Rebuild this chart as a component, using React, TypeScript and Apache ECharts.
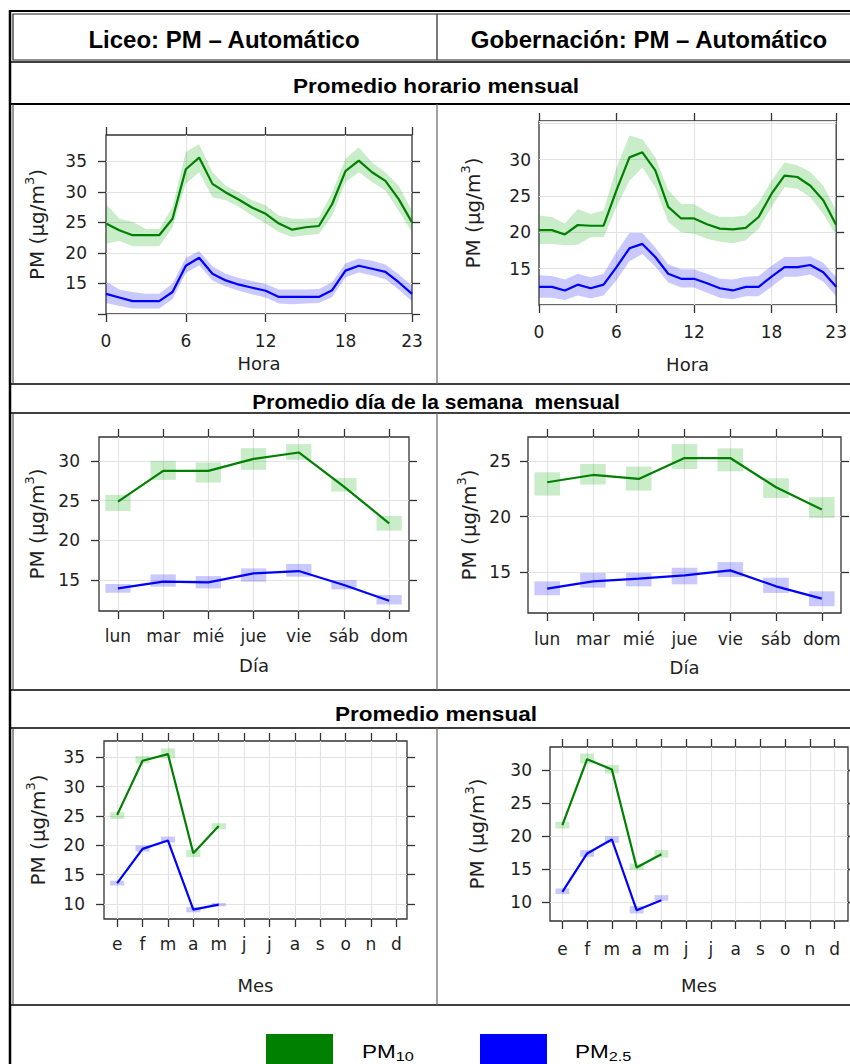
import React, { useEffect, useRef } from "react";
import * as echarts from "echarts";

// ---------- categories / tick labels ----------
const HOURS = ["0","1","2","3","4","5","6","7","8","9","10","11","12","13","14","15","16","17","18","19","20","21","22","23"];
const HOUR_LABEL_IDX = [0, 6, 12, 18, 23];
const HOUR_GRID_IDX = [6, 12, 18];
const DAYS = ["lun", "mar", "mié", "jue", "vie", "sáb", "dom"];
const MONTHS = ["e", "f", "m", "a", "m", "j", "j", "a", "s", "o", "n", "d"];

const Y_TICKS_1 = [10, 15, 20, 25, 30, 35];
const Y_LABELS_1 = [15, 20, 25, 30, 35];
const Y_TICKS_2 = [15, 20, 25, 30];
const Y_LABELS_2 = [15, 20, 25, 30];
const Y_TICKS_3 = [15, 20, 25, 30];
const Y_LABELS_3 = [15, 20, 25, 30];
const Y_TICKS_4 = [15, 20, 25];
const Y_LABELS_4 = [15, 20, 25];
const Y_TICKS_5 = [10, 15, 20, 25, 30, 35];
const Y_LABELS_5 = [10, 15, 20, 25, 30, 35];
const Y_TICKS_6 = [10, 15, 20, 25, 30];
const Y_LABELS_6 = [10, 15, 20, 25, 30];

// ---------- Liceo: hourly ----------
const liceoHourPM10 = [24.8, 23.7, 22.9, 22.9, 22.9, 25.6, 33.7, 35.6, 31.3, 29.9, 28.7, 27.4, 26.4, 24.8, 23.8, 24.2, 24.4, 28.0, 33.4, 35.1, 33.2, 31.8, 28.8, 25.0];
const liceoHourPM10Hi = [28.0, 25.6, 25.1, 23.9, 23.9, 27.5, 36.5, 37.8, 33.2, 31.0, 29.9, 28.6, 27.8, 26.1, 25.6, 25.6, 25.8, 29.9, 35.4, 37.3, 34.8, 33.2, 31.0, 26.9];
const liceoHourPM10Lo = [21.5, 22.0, 21.1, 21.1, 21.1, 24.2, 31.3, 33.2, 29.1, 28.6, 27.5, 26.1, 24.8, 23.4, 22.6, 22.9, 23.1, 26.1, 31.6, 33.2, 31.6, 30.2, 26.9, 23.4];
const liceoHourPM25 = [13.3, 12.7, 12.1, 12.1, 12.1, 13.6, 17.9, 19.2, 16.6, 15.5, 14.8, 14.3, 13.8, 12.8, 12.8, 12.8, 12.8, 13.9, 17.1, 17.9, 17.4, 16.9, 15.2, 13.3];
const liceoHourPM25Hi = [15.3, 14.0, 13.6, 13.3, 13.3, 15.0, 19.2, 20.3, 17.8, 16.6, 15.9, 15.4, 14.9, 14.0, 14.0, 14.0, 14.1, 15.2, 18.3, 19.1, 18.7, 18.1, 16.5, 14.6];
const liceoHourPM25Lo = [11.8, 11.3, 10.9, 10.9, 10.9, 12.4, 16.7, 18.0, 15.5, 14.5, 13.8, 13.2, 12.7, 11.7, 11.6, 11.7, 11.8, 12.8, 16.0, 16.8, 16.3, 15.7, 14.0, 12.1];

// ---------- Gobernación: hourly ----------
const gobHourPM10 = [20.3, 20.3, 19.7, 21.0, 20.9, 20.9, 25.8, 30.3, 31.0, 28.5, 23.5, 21.9, 21.9, 21.1, 20.5, 20.4, 20.6, 22.1, 25.3, 27.8, 27.6, 26.4, 24.4, 21.0];
const gobHourPM10Hi = [22.3, 22.1, 21.2, 23.2, 22.5, 23.0, 28.9, 33.3, 32.8, 30.3, 25.8, 23.9, 23.9, 22.8, 22.1, 22.1, 22.3, 24.1, 27.1, 29.6, 29.2, 28.3, 26.4, 23.0];
const gobHourPM10Lo = [18.4, 18.4, 18.2, 18.3, 19.3, 19.3, 23.5, 27.1, 28.9, 26.2, 21.4, 20.0, 19.8, 19.1, 18.7, 18.5, 18.9, 20.5, 23.5, 26.2, 26.0, 24.8, 22.5, 19.6];
const gobHourPM25 = [12.5, 12.5, 12.0, 12.8, 12.3, 12.8, 15.2, 17.8, 18.4, 16.6, 14.3, 13.6, 13.6, 13.0, 12.3, 12.0, 12.5, 12.5, 13.9, 15.2, 15.2, 15.5, 14.5, 12.5];
const gobHourPM25Hi = [14.1, 14.0, 13.5, 14.3, 13.8, 14.3, 17.3, 19.9, 19.9, 17.9, 15.6, 14.9, 14.9, 14.3, 13.6, 13.5, 13.9, 14.0, 15.4, 16.6, 16.6, 16.7, 15.8, 13.8];
const gobHourPM25Lo = [11.0, 11.0, 10.7, 11.3, 10.9, 11.3, 13.4, 16.0, 17.0, 15.3, 13.1, 12.4, 12.4, 11.7, 11.0, 10.8, 11.2, 11.2, 12.5, 13.9, 13.9, 14.2, 13.2, 11.2];

// ---------- Liceo: day of week ----------
const liceoDayPM10 = [24.87, 28.74, 28.74, 30.25, 31.05, 26.76, 22.14];
const liceoDayPM10Hi = [25.71, 30.0, 29.79, 31.6, 32.1, 27.82, 23.07];
const liceoDayPM10Lo = [23.7, 27.6, 27.27, 28.87, 30.13, 26.13, 21.22];
const liceoDayPM25 = [13.95, 14.79, 14.71, 15.84, 16.13, 14.37, 12.39];
const liceoDayPM25Hi = [14.5, 15.71, 15.5, 16.47, 17.02, 15.0, 13.11];
const liceoDayPM25Lo = [13.4, 14.16, 13.95, 14.79, 15.42, 13.82, 11.93];

// ---------- Gobernación: day of week ----------
const gobDayPM10 = [23.11, 23.77, 23.41, 25.3, 25.3, 22.66, 20.65];
const gobDayPM10Hi = [24.01, 24.76, 24.52, 26.56, 26.17, 23.47, 21.76];
const gobDayPM10Lo = [21.91, 22.9, 22.36, 24.31, 24.1, 21.7, 19.89];
const gobDayPM25 = [13.5, 14.16, 14.4, 14.7, 15.15, 13.71, 12.6];
const gobDayPM25Hi = [14.16, 14.91, 14.91, 15.39, 15.9, 14.49, 13.26];
const gobDayPM25Lo = [12.9, 13.59, 13.71, 13.89, 14.55, 13.11, 11.91];

// ---------- Liceo: monthly (e..m) ----------
const liceoMonPM10 = [25.2, 34.43, 35.57, 18.67, 23.32];
const liceoMonPM10Hi = [25.65, 35.23, 36.53, 19.24, 23.78];
const liceoMonPM10Lo = [24.51, 33.98, 34.83, 17.99, 22.76];
const liceoMonPM25 = [13.57, 19.41, 20.83, 9.04, 9.89];
const liceoMonPM25Hi = [13.97, 19.98, 21.5, 9.49, 10.17];
const liceoMonPM25Lo = [13.17, 18.96, 20.49, 8.58, 9.6];

// ---------- Gobernación: monthly (e..m) ----------
const gobMonPM10 = [21.69, 31.66, 30.1, 15.29, 17.3];
const gobMonPM10Hi = [22.19, 32.52, 30.76, 15.89, 17.91];
const gobMonPM10Lo = [21.18, 31.0, 29.5, 14.89, 16.8];
const gobMonPM25 = [11.61, 17.41, 19.52, 8.84, 10.35];
const gobMonPM25Hi = [12.12, 17.91, 20.03, 9.45, 11.11];
const gobMonPM25Lo = [11.26, 16.9, 19.02, 8.34, 10.25];

// ---------- styles ----------
const FONT = '"DejaVu Sans", "Liberation Sans", Arial, sans-serif';
const TITLE_FONT = '"Liberation Sans", Arial, sans-serif';
const TEXT_COLOR = "#1e1e1e";
const FRAME = "#333333";
const GRIDLINE = "#e3e3e3";
const G_LINE = "#008000";
const B_LINE = "#0000ff";
const G_FILL = "rgba(0,165,0,0.21)";
const B_FILL = "rgba(0,0,255,0.21)";
const BOX_HALF = 0.28;

type Panel = {
  kind: "hour" | "day" | "month";
  box: [number, number, number, number];
  xRange?: [number, number];
  yRange: [number, number];
  yTicks: number[];
  yLabels: number[];
  yLabelMargin: number;
  yNameGap: number;
  xLabelMargin: number;
  xNameGap: number;
  leftTicks: boolean;
  pm10: number[];
  pm10Hi: number[];
  pm10Lo: number[];
  pm25: number[];
  pm25Hi: number[];
  pm25Lo: number[];
};

const PANELS: Panel[] = [
  {
    kind: "hour", box: [106, 135, 306, 179], yRange: [10, 39.3], yTicks: Y_TICKS_1, yLabels: Y_LABELS_1,
    yLabelMargin: 19, yNameGap: 59, xLabelMargin: 18, xNameGap: 40, leftTicks: true,
    pm10: liceoHourPM10, pm10Hi: liceoHourPM10Hi, pm10Lo: liceoHourPM10Lo,
    pm25: liceoHourPM25, pm25Hi: liceoHourPM25Hi, pm25Lo: liceoHourPM25Lo,
  },
  {
    kind: "hour", box: [539, 121, 302, 184], yRange: [10, 35.3], yTicks: Y_TICKS_2, yLabels: Y_LABELS_2,
    yLabelMargin: 8, yNameGap: 56, xLabelMargin: 18, xNameGap: 50, leftTicks: false,
    pm10: gobHourPM10, pm10Hi: gobHourPM10Hi, pm10Lo: gobHourPM10Lo,
    pm25: gobHourPM25, pm25Hi: gobHourPM25Hi, pm25Lo: gobHourPM25Lo,
  },
  {
    kind: "day", box: [99, 437, 310, 174], xRange: [-0.42, 6.44], yRange: [11.1, 33], yTicks: Y_TICKS_3, yLabels: Y_LABELS_3,
    yLabelMargin: 19, yNameGap: 52, xLabelMargin: 16, xNameGap: 45, leftTicks: true,
    pm10: liceoDayPM10, pm10Hi: liceoDayPM10Hi, pm10Lo: liceoDayPM10Lo,
    pm25: liceoDayPM25, pm25Hi: liceoDayPM25Hi, pm25Lo: liceoDayPM25Lo,
  },
  {
    kind: "day", box: [528, 437, 313, 176], xRange: [-0.42, 6.42], yRange: [11.3, 27.2], yTicks: Y_TICKS_4, yLabels: Y_LABELS_4,
    yLabelMargin: 17, yNameGap: 49, xLabelMargin: 17, xNameGap: 45, leftTicks: true,
    pm10: gobDayPM10, pm10Hi: gobDayPM10Hi, pm10Lo: gobDayPM10Lo,
    pm25: gobDayPM25, pm25Hi: gobDayPM25Hi, pm25Lo: gobDayPM25Lo,
  },
  {
    kind: "month", box: [104, 741, 303, 178], xRange: [-0.52, 11.42], yRange: [7.45, 37.8], yTicks: Y_TICKS_5, yLabels: Y_LABELS_5,
    yLabelMargin: 19, yNameGap: 56, xLabelMargin: 16, xNameGap: 57, leftTicks: true,
    pm10: liceoMonPM10, pm10Hi: liceoMonPM10Hi, pm10Lo: liceoMonPM10Lo,
    pm25: liceoMonPM25, pm25Hi: liceoMonPM25Hi, pm25Lo: liceoMonPM25Lo,
  },
  {
    kind: "month", box: [550, 747, 298, 174], xRange: [-0.5, 11.54], yRange: [7.2, 33.5], yTicks: Y_TICKS_6, yLabels: Y_LABELS_6,
    yLabelMargin: 18, yNameGap: 63, xLabelMargin: 19, xNameGap: 55, leftTicks: true,
    pm10: gobMonPM10, pm10Hi: gobMonPM10Hi, pm10Lo: gobMonPM10Lo,
    pm25: gobMonPM25, pm25Hi: gobMonPM25Hi, pm25Lo: gobMonPM25Lo,
  },
];

const axisText = { fontFamily: FONT, fontSize: 17, color: TEXT_COLOR };
const xNameText = { fontFamily: FONT, fontSize: 18, color: TEXT_COLOR };
const yNameText = {
  fontFamily: FONT, fontSize: 20, color: TEXT_COLOR,
  rich: {
    b: { fontFamily: FONT, fontSize: 20, color: TEXT_COLOR, lineHeight: 24, verticalAlign: "bottom" },
    sup: { fontFamily: FONT, fontSize: 13, color: TEXT_COLOR, lineHeight: 24, verticalAlign: "top" },
  },
};

function buildOption() {
  const grid: any[] = [];
  const xAxis: any[] = [];
  const yAxis: any[] = [];
  const series: any[] = [];

  PANELS.forEach((p, k) => {
    grid.push({
      left: p.box[0], top: p.box[1], width: p.box[2], height: p.box[3],
      show: true, borderColor: FRAME, borderWidth: 1.3, backgroundColor: "rgba(0,0,0,0)",
    });
    const tickStyle = { show: true, inside: false, length: 8, lineStyle: { color: FRAME, width: 1.3 } };
    const noLine = { show: false, onZero: false };

    if (p.kind === "hour") {
      const isLab = (i: number) => HOUR_LABEL_IDX.indexOf(i) >= 0;
      xAxis.push({
        type: "category", gridIndex: k, position: "bottom", data: HOURS, boundaryGap: false,
        axisLine: noLine,
        axisTick: { ...tickStyle, interval: (i: number) => isLab(i) },
        axisLabel: { ...axisText, interval: (i: number) => isLab(i), margin: p.xLabelMargin },
        splitLine: { show: true, interval: (i: number) => HOUR_GRID_IDX.indexOf(i) >= 0, lineStyle: { color: GRIDLINE, width: 1.2 } },
        name: "Hora", nameLocation: "middle", nameGap: p.xNameGap, nameTextStyle: xNameText,
      });
      xAxis.push({
        type: "category", gridIndex: k, position: "top", data: HOURS, boundaryGap: false,
        axisLine: noLine,
        axisTick: { ...tickStyle, interval: (i: number) => isLab(i) },
        axisLabel: { show: false }, splitLine: { show: false },
      });
    } else {
      const cats = p.kind === "day" ? DAYS : MONTHS;
      const idx = cats.map((_, i) => i);
      const xr = p.xRange as [number, number];
      xAxis.push({
        type: "value", gridIndex: k, position: "bottom", min: xr[0], max: xr[1], minInterval: 1, maxInterval: 1,
        axisLine: noLine,
        axisTick: { ...tickStyle, customValues: idx },
        axisLabel: {
          ...axisText, margin: p.xLabelMargin, customValues: idx, showMinLabel: true, showMaxLabel: true,
          formatter: (v: number) => (Math.abs(v - Math.round(v)) < 1e-6 && cats[Math.round(v)] !== undefined ? cats[Math.round(v)] : ""),
        },
        splitLine: { show: true, lineStyle: { color: GRIDLINE, width: 1.2 } },
        name: p.kind === "day" ? "Día" : "Mes", nameLocation: "middle", nameGap: p.xNameGap, nameTextStyle: xNameText,
      });
      xAxis.push({
        type: "value", gridIndex: k, position: "top", min: xr[0], max: xr[1], minInterval: 1, maxInterval: 1,
        axisLine: noLine,
        axisTick: { ...tickStyle, customValues: idx },
        axisLabel: { show: false }, splitLine: { show: false },
      });
    }

    yAxis.push({
      type: "value", gridIndex: k, position: "left", min: p.yRange[0], max: p.yRange[1], minInterval: 5, maxInterval: 5,
      axisLine: noLine,
      axisTick: p.leftTicks ? { ...tickStyle, customValues: p.yTicks } : { show: false },
      axisLabel: { ...axisText, margin: p.yLabelMargin, customValues: p.yLabels },
      splitLine: { show: true, lineStyle: { color: GRIDLINE, width: 1.2 } },
      name: "{b|PM (μg/m}{sup|3}{b|)}", nameLocation: "middle", nameGap: p.yNameGap, nameTextStyle: yNameText,
    });
    yAxis.push({
      type: "value", gridIndex: k, position: "right", min: p.yRange[0], max: p.yRange[1], minInterval: 5, maxInterval: 5,
      axisLine: noLine,
      axisTick: { ...tickStyle, customValues: p.yTicks },
      axisLabel: { show: false }, splitLine: { show: false },
    });

    const xi = 2 * k;
    const yi = 2 * k;

    if (p.kind === "hour") {
      const band = (lo: number[], hi: number[], color: string, id: string) => [
        {
          type: "line", xAxisIndex: xi, yAxisIndex: yi, data: lo, stack: id, symbol: "none",
          lineStyle: { width: 0, opacity: 0 }, silent: true, z: 1,
        },
        {
          type: "line", xAxisIndex: xi, yAxisIndex: yi, data: hi.map((v, i) => +(v - lo[i]).toFixed(3)), stack: id,
          symbol: "none", lineStyle: { width: 0, opacity: 0 }, areaStyle: { color, opacity: 1 }, silent: true, z: 1,
        },
      ];
      series.push(...band(p.pm10Lo, p.pm10Hi, G_FILL, "g" + k));
      series.push(...band(p.pm25Lo, p.pm25Hi, B_FILL, "b" + k));
      series.push({ type: "line", xAxisIndex: xi, yAxisIndex: yi, data: p.pm10, symbol: "none", lineStyle: { color: G_LINE, width: 2.2 }, z: 3, silent: true });
      series.push({ type: "line", xAxisIndex: xi, yAxisIndex: yi, data: p.pm25, symbol: "none", lineStyle: { color: B_LINE, width: 2.2 }, z: 3, silent: true });
    } else {
      const boxes = (lo: number[], hi: number[], color: string) => ({
        type: "custom", xAxisIndex: xi, yAxisIndex: yi, silent: true, z: 1,
        data: lo.map((l, i) => [i, l, hi[i]]),
        encode: { x: 0, y: [1, 2] },
        renderItem: (_params: any, api: any) => {
          const x = api.value(0);
          const l = api.value(1);
          const h = api.value(2);
          const a = api.coord([x - BOX_HALF, h]);
          const b = api.coord([x + BOX_HALF, l]);
          return { type: "rect", shape: { x: a[0], y: a[1], width: b[0] - a[0], height: b[1] - a[1] }, style: { fill: color } };
        },
      });
      series.push(boxes(p.pm10Lo, p.pm10Hi, G_FILL));
      series.push(boxes(p.pm25Lo, p.pm25Hi, B_FILL));
      series.push({ type: "line", xAxisIndex: xi, yAxisIndex: yi, data: p.pm10.map((v, i) => [i, v]), symbol: "none", lineStyle: { color: G_LINE, width: 2.2 }, z: 3, silent: true });
      series.push({ type: "line", xAxisIndex: xi, yAxisIndex: yi, data: p.pm25.map((v, i) => [i, v]), symbol: "none", lineStyle: { color: B_LINE, width: 2.2 }, z: 3, silent: true });
    }
  });

  const hline = (y: number, w: number, color = "#000") => ({
    type: "line", shape: { x1: 10, y1: y, x2: 850, y2: y }, style: { stroke: color, lineWidth: w }, silent: true,
  });
  const vline = (x: number, y1: number, y2: number, w: number, color: string) => ({
    type: "line", shape: { x1: x, y1, x2: x, y2 }, style: { stroke: color, lineWidth: w }, silent: true,
  });
  const txt = (text: string, x: number, y: number, size: number, weight: string, family: string, scaleX = 1) => ({
    type: "text", x, y, scaleX, silent: true,
    style: {
      text, fill: "#000", fontSize: size, fontWeight: weight, fontFamily: family,
      textAlign: "center", textVerticalAlign: "middle", align: "center", verticalAlign: "middle",
    },
  });

  const graphic: any[] = [
    // outer frame & header
    vline(10, 10, 1064, 2.5, "#000"),
    hline(11, 2),
    { type: "rect", shape: { x: 13, y: 14, width: 845, height: 46 }, style: { fill: "none", stroke: "#222", lineWidth: 1.2 }, silent: true },
    hline(62, 1.6),
    vline(437, 14, 60, 1.4, "#444"),
    // row separators
    hline(104, 2),
    hline(384, 1.6),
    hline(413, 1.6),
    hline(690, 1.6),
    hline(728, 1.6),
    hline(1005, 1.6),
    // inner panel borders
    vline(13, 104, 384, 1, "#333"),
    vline(13, 413, 690, 1, "#333"),
    vline(13, 728, 1005, 1, "#333"),
    vline(437, 104, 384, 1.2, "#666"),
    vline(437, 413, 690, 1.2, "#666"),
    vline(437, 728, 1005, 1.2, "#666"),
    // texts
    txt("Liceo: PM – Automático", 224, 39, 24, "bold", TITLE_FONT),
    txt("Gobernación: PM – Automático", 649, 39, 24, "bold", TITLE_FONT),
    txt("Promedio horario mensual", 436, 86, 20, "bold", TITLE_FONT, 1.13),
    txt("Promedio día de la semana  mensual", 436, 402, 20, "bold", TITLE_FONT, 1.05),
    txt("Promedio mensual", 436, 714, 20, "bold", TITLE_FONT, 1.13),
    // legend
    { type: "rect", shape: { x: 266, y: 1034, width: 67, height: 32 }, style: { fill: G_LINE }, silent: true },
    { type: "rect", shape: { x: 480, y: 1034, width: 67, height: 32 }, style: { fill: B_LINE }, silent: true },
    {
      type: "text", x: 362, y: 1052, scaleX: 1.25, silent: true,
      style: {
        text: "PM{s|10}", fill: "#000", fontSize: 18, fontFamily: TITLE_FONT,
        textVerticalAlign: "middle", verticalAlign: "middle",
        rich: { s: { fontSize: 13, fontFamily: TITLE_FONT, fill: "#000", padding: [10, 0, 0, 0] } },
      },
    },
    {
      type: "text", x: 575, y: 1052, scaleX: 1.25, silent: true,
      style: {
        text: "PM{s|2.5}", fill: "#000", fontSize: 18, fontFamily: TITLE_FONT,
        textVerticalAlign: "middle", verticalAlign: "middle",
        rich: { s: { fontSize: 13, fontFamily: TITLE_FONT, fill: "#000", padding: [10, 0, 0, 0] } },
      },
    },
  ];

  return {
    animation: false,
    backgroundColor: "#ffffff",
    grid,
    xAxis,
    yAxis,
    series,
    graphic,
  };
}

export default function App() {
  const ref = useRef<HTMLDivElement>(null);
  useEffect(() => {
    if (!ref.current) return;
    const chart = echarts.init(ref.current, undefined, { renderer: "svg" });
    chart.setOption(buildOption() as any);
    return () => chart.dispose();
  }, []);
  return (
    <div
      ref={ref}
      style={{ position: "absolute", left: 0, top: 0, width: 850, height: 1064, background: "#fff" }}
    />
  );
}
